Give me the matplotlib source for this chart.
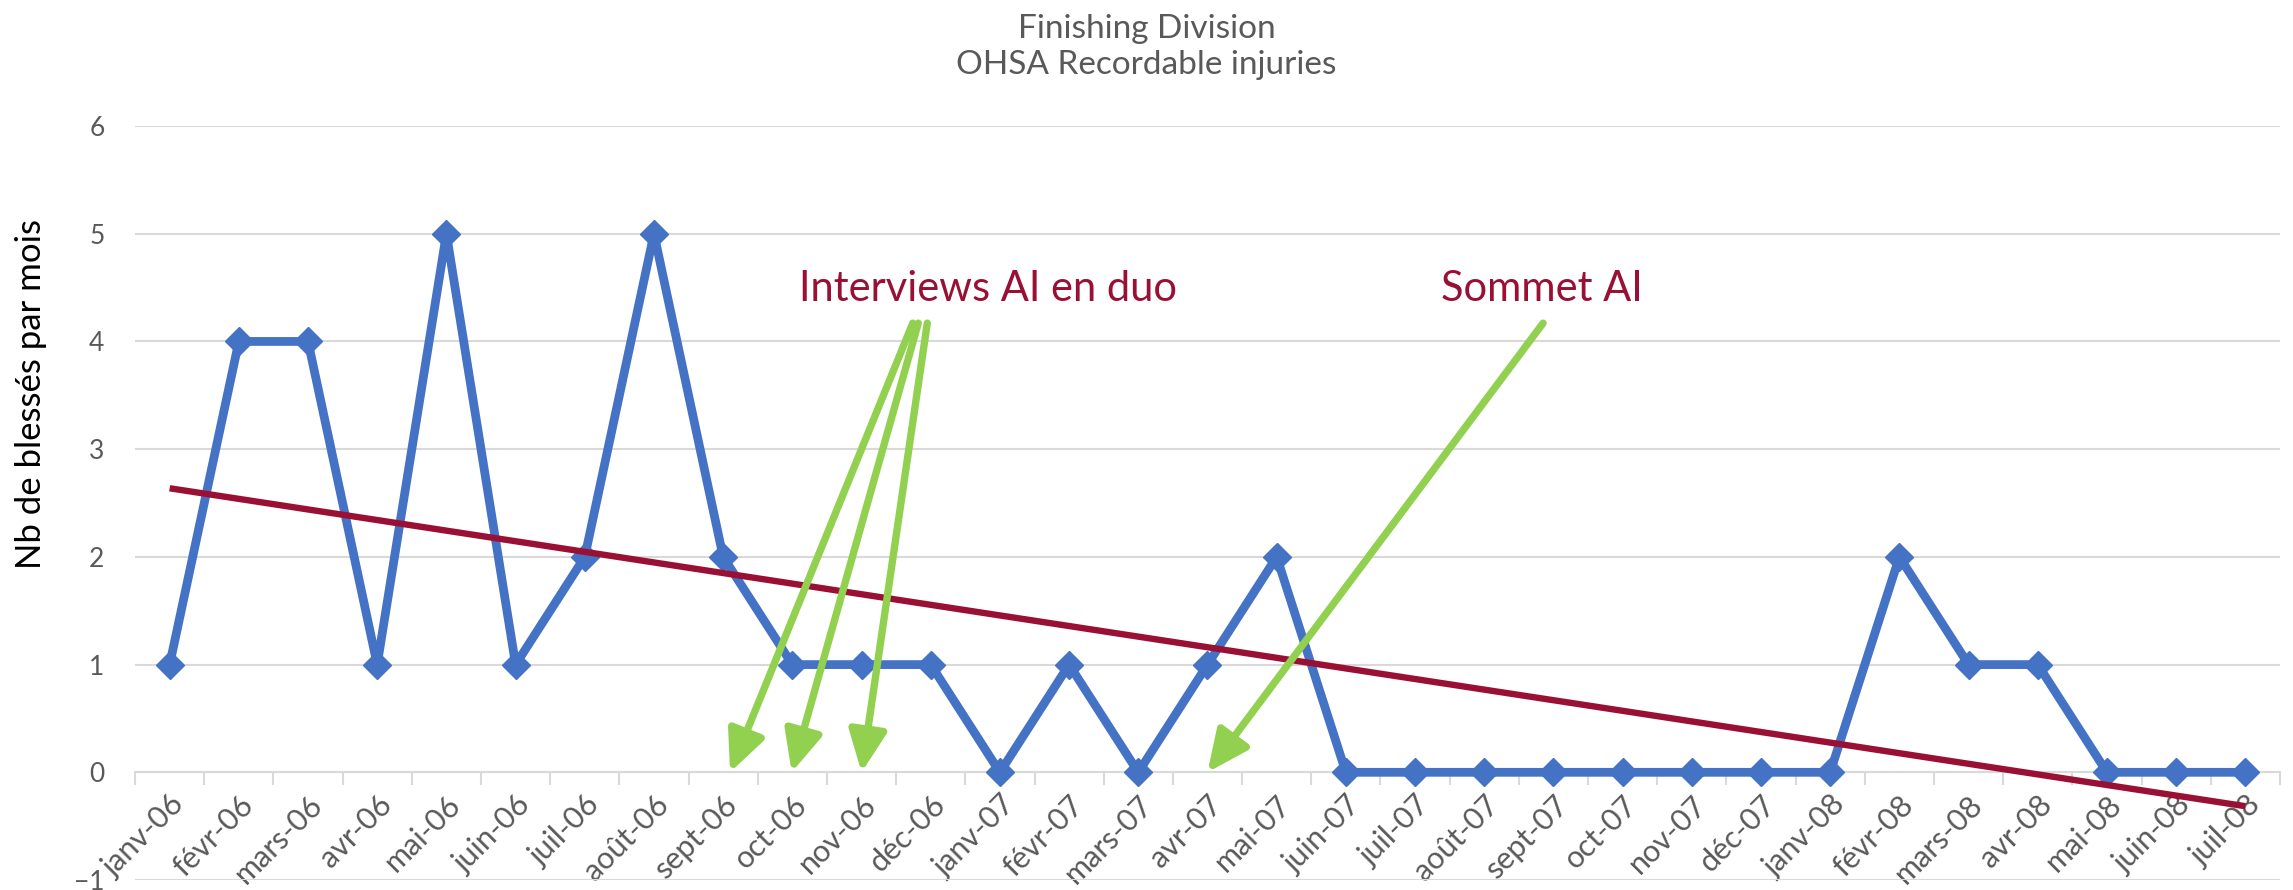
import numpy as np
import matplotlib.pyplot as plt
from matplotlib.patches import FancyArrowPatch

# Données
mois = ["janv-06", "févr-06", "mars-06", "avr-06", "mai-06", "juin-06", "juil-06",
        "août-06", "sept-06", "oct-06", "nov-06", "déc-06",
        "janv-07", "févr-07", "mars-07", "avr-07", "mai-07", "juin-07", "juil-07",
        "août-07", "sept-07", "oct-07", "nov-07", "déc-07",
        "janv-08", "févr-08", "mars-08", "avr-08", "mai-08", "juin-08", "juil-08"]
blesses = [1, 4, 4, 1, 5, 1, 2, 5, 2, 1, 1, 1,
           0, 1, 0, 1, 2, 0, 0, 0, 0, 0, 0, 0,
           0, 2, 1, 1, 0, 0, 0]

# Flèches d'annotation : (x départ, y départ, x arrivée, y arrivée)
fleches_interviews = [(10.74, 4.17, 8.1, 0.0),
                      (10.82, 4.17, 8.99, 0.0),
                      (10.95, 4.17, 10.0, 0.0)]
fleche_sommet = (19.85, 4.17, 15.0, 0.0)

bleu = "#4472C4"
bordeaux = "#9A1035"
vert = "#92D050"
gris = "#595959"

plt.rcParams['font.family'] = ['Lato', 'DejaVu Sans']

fig = plt.figure(figsize=(22.93, 8.90), dpi=100)
ax = fig.add_axes([0.0589, 0.0112, 0.9354, 0.8472])

x = np.arange(len(mois))
ax.plot(x, blesses, color=bleu, lw=6.3, marker='D', ms=14, zorder=3)

# Courbe de tendance linéaire (comme Excel)
a, b = np.polyfit(x, blesses, 1)
ax.plot(x, a * x + b, color=bordeaux, lw=4.6, zorder=4, solid_capstyle='butt')

ax.set_xlim(-0.5, len(mois) - 0.5)
ax.set_ylim(-1, 6)
ax.set_yticks(range(-1, 7))
ax.yaxis.grid(True, color="#D9D9D9", lw=1.5)
ax.set_axisbelow(True)
for s in ["top", "right", "left"]:
    ax.spines[s].set_visible(False)
ax.spines["bottom"].set_position(("data", 0))
ax.spines["bottom"].set_color("#D9D9D9")
ax.spines["bottom"].set_linewidth(1.5)

# Graduations entre catégories, étiquettes au centre
ax.set_xticks(np.arange(-0.5, len(mois), 1.0))
ax.set_xticklabels([])
ax.tick_params(axis='x', which='major', length=9, width=1.5, color="#D9D9D9", direction='out')
ax.set_xticks(x, minor=True)
ax.set_xticklabels(mois, minor=True, rotation=45, ha='right', va='top',
                   rotation_mode='anchor', fontsize=22, color=gris)
ax.tick_params(axis='x', which='minor', length=0, pad=13)
ax.tick_params(axis='y', length=0, labelsize=19, labelcolor=gris, pad=22)

ax.set_ylabel("Nb de blessés par mois", fontsize=25, color="black")
ax.yaxis.set_label_coords(-0.041, 0.645)

fig.suptitle("Finishing Division\nOHSA Recordable injuries", fontsize=24,
             color=gris, y=0.984, linespacing=1.25)

ax.text(9.09, 4.38, "Interviews AI en duo", fontsize=30, color=bordeaux,
        ha='left', va='baseline', zorder=6)
ax.text(18.37, 4.38, "Sommet AI", fontsize=30, color=bordeaux,
        ha='left', va='baseline', zorder=6)

for x0, y0, x1, y1 in fleches_interviews + [fleche_sommet]:
    ar = FancyArrowPatch((x0, y0), (x1, y1), arrowstyle='-|>,head_length=2.5,head_width=1.15',
                         mutation_scale=10, color=vert, lw=5.3, shrinkA=0, shrinkB=0,
                         zorder=5, clip_on=False)
    ax.add_patch(ar)

fig.savefig("out.png", dpi=100)
